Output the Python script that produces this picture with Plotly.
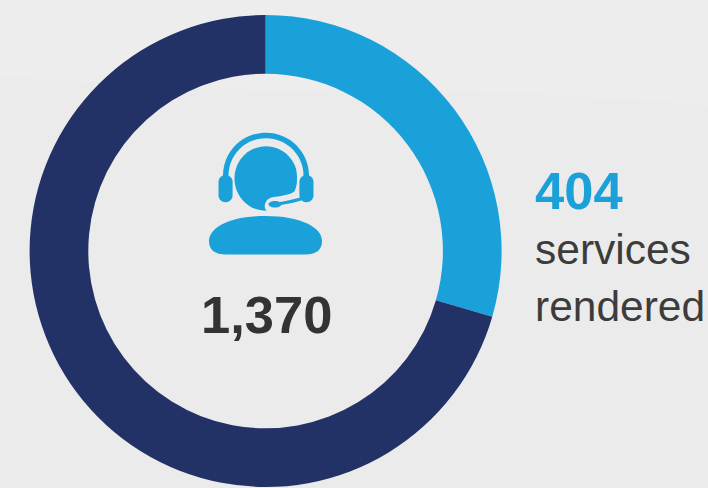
import plotly.graph_objects as go

W, H = 708, 488

segment_labels = ["services rendered", "remainder"]
segment_values = [404, 966]
segment_colors = ["#1aa1da", "#223266"]

total_label = "1,370"
rendered_label = "404"
caption_lines = ["services", "rendered"]

BG = "#ebebeb"
BG_TOP = "#ededed"
ICON = "#1aa1da"
INK = "#333333"
CAPTION = "#3c3c3c"


def px(x):
    return x / W


def py(y):
    return 1 - y / H


def path(cmds):
    """Build an SVG path in paper coordinates from (letter, x, y, ...) tuples in page pixels."""
    out = []
    for c in cmds:
        pts = c[1:]
        conv = [f"{px(pts[i]):.5f},{py(pts[i + 1]):.5f}" for i in range(0, len(pts), 2)]
        out.append(c[0] + " ".join(conv))
    return " ".join(out)


def ellipse(cx, cy, rx, ry):
    k = 0.5523
    return [
        ("M", cx - rx, cy),
        ("C", cx - rx, cy - k * ry, cx - k * rx, cy - ry, cx, cy - ry),
        ("C", cx + k * rx, cy - ry, cx + rx, cy - k * ry, cx + rx, cy),
        ("C", cx + rx, cy + k * ry, cx + k * rx, cy + ry, cx, cy + ry),
        ("C", cx - k * rx, cy + ry, cx - rx, cy + k * ry, cx - rx, cy),
        ("Z",),
    ]


def rounded_rect(x0, y0, x1, y1, r):
    k = 0.5523 * r
    return [
        ("M", x0 + r, y0),
        ("L", x1 - r, y0),
        ("C", x1 - r + k, y0, x1, y0 + r - k, x1, y0 + r),
        ("L", x1, y1 - r),
        ("C", x1, y1 - r + k, x1 - r + k, y1, x1 - r, y1),
        ("L", x0 + r, y1),
        ("C", x0 + r - k, y1, x0, y1 - r + k, x0, y1 - r),
        ("L", x0, y0 + r),
        ("C", x0, y0 + r - k, x0 + r - k, y0, x0 + r, y0),
        ("Z",),
    ]


def filled(cmds, color, layer="above"):
    return dict(type="path", xref="paper", yref="paper", path=path(cmds),
                fillcolor=color, line=dict(width=0), layer=layer)


def stroked(cmds, color, width):
    return dict(type="path", xref="paper", yref="paper", path=path(cmds),
                fillcolor="rgba(0,0,0,0)", line=dict(color=color, width=width), layer="above")


# Faint lighter band across the top of the backdrop
backdrop = filled([
    ("M", 0, 0), ("L", 708, 0), ("L", 708, 106),
    ("C", 560, 92, 400, 88, 270, 90),
    ("C", 160, 88, 70, 80, 0, 77), ("Z",),
], BG_TOP, layer="below")

# Headset operator icon: band, gap, head, ear cups, boom mic, shoulders
icon = [
    filled(ellipse(266, 175.7, 43, 43), ICON),
    filled(ellipse(266, 175.7, 37.5, 37.5), BG),
    filled([("M", 218, 178), ("L", 314, 178), ("L", 314, 222), ("L", 218, 222), ("Z",)], BG),
    filled(ellipse(266, 178.5, 31.5, 32.3), ICON),
    # Lower right of the head is cut away beneath the boom
    filled([("M", 267, 200), ("L", 299, 194), ("L", 299, 214), ("L", 267, 214), ("Z",)], BG),
    # Pale outline running down the head's edge and around the mic
    stroked([("M", 298, 170),
             ("C", 299, 178, 299, 186, 296, 192),
             ("C", 292, 197, 282, 197, 274, 198.5),
             ("C", 267, 199.5, 265, 205, 267, 209),
             ("C", 268, 211, 271, 211.5, 274, 211)], BG, 3),
    filled(rounded_rect(218.5, 175, 232.6, 202.3, 7), ICON),
    filled(rounded_rect(299.4, 175, 313.5, 202.3, 7), ICON),
    stroked([("M", 303, 198), ("C", 296, 201, 288, 202, 280, 203.5)], ICON, 3),
    filled(ellipse(275, 204.2, 6.5, 3.2), ICON),
    filled([
        ("M", 209, 241),
        ("C", 209, 227, 231, 216, 265.5, 216),
        ("C", 300, 216, 322, 227, 322, 241),
        ("C", 322, 250, 316, 254.5, 305, 254.5),
        ("L", 226, 254.5),
        ("C", 215, 254.5, 209, 250, 209, 241),
        ("Z",),
    ], ICON),
]

fig = go.Figure(go.Pie(
    labels=segment_labels,
    values=segment_values,
    hole=177.3 / 236,
    sort=False,
    direction="clockwise",
    rotation=0,
    marker=dict(colors=segment_colors, line=dict(width=0)),
    textinfo="none",
    hoverinfo="label+value",
    domain=dict(x=[29.6 / W, 501.6 / W], y=[1 - 487 / H, 1 - 15 / H]),
))


def note(text, x, y, size, color, bold=False, anchor="left"):
    return dict(
        text=f"<b>{text}</b>" if bold else text,
        x=px(x), y=py(y), xref="paper", yref="paper",
        xanchor=anchor, yanchor="middle", showarrow=False,
        font=dict(family="Liberation Sans", size=size, color=color),
    )


fig.update_layout(
    width=W, height=H,
    margin=dict(l=0, r=0, t=0, b=0),
    paper_bgcolor=BG,
    plot_bgcolor=BG,
    showlegend=False,
    shapes=[backdrop] + icon,
    annotations=[
        note(total_label, 266, 314, 52.5, INK, bold=True, anchor="center"),
        note(rendered_label, 533, 190, 52.5, segment_colors[0], bold=True),
        note(caption_lines[0], 533, 249, 42.5, CAPTION),
        note(caption_lines[1], 533, 306, 42.5, CAPTION),
    ],
)

fig.write_html("out.html")
